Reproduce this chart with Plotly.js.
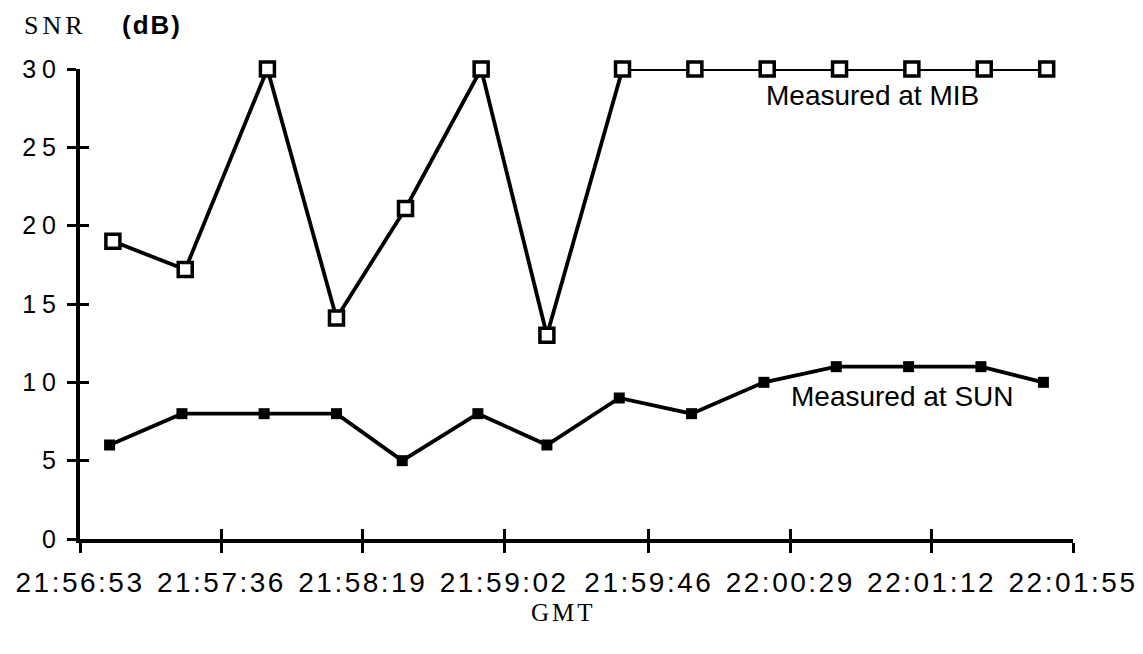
<!DOCTYPE html>
<html>
<head>
<meta charset="utf-8">
<script src="https://cdn.plot.ly/plotly-3.0.1.min.js"></script>
<style>
  html, body { margin: 0; padding: 0; background: #fff; }
  #chart { width: 1143px; height: 654px; }
  .xtick text { letter-spacing: 2.5px; }
  .ytick text { letter-spacing: 6px; }
</style>
</head>
<body>
<div id="chart"></div>
<script>
// ---- data (times in GMT, SNR in dB) ----
const DAY = '2000-01-01 ';
const mibTimes = ['21:57:03','21:57:25','21:57:50','21:58:11','21:58:32','21:58:55','21:59:15',
                  '21:59:38','22:00:00','22:00:22','22:00:44','22:01:06','22:01:28','22:01:47'];
const mibSNR   = [19, 17.2, 30, 14.1, 21.1, 30, 13, 30, 30, 30, 30, 30, 30, 30];

const sunTimes = ['21:57:02','21:57:24','21:57:49','21:58:11','21:58:31','21:58:54','21:59:15',
                  '21:59:37','21:59:59','22:00:21','22:00:43','22:01:05','22:01:27','22:01:46'];
const sunSNR   = [6, 8, 8, 8, 5, 8, 6, 9, 8, 10, 11, 11, 11, 10];

const xTickLabels = ['21:56:53','21:57:36','21:58:19','21:59:02','21:59:46','22:00:29','22:01:12','22:01:55'];
const yTickValues = [0, 5, 10, 15, 20, 25, 30];
const yTickLabels = ['0','5','10','15','20','25','30'];

const xTickVals = xTickLabels.map(t => DAY + t);
const xRange = [DAY + xTickLabels[0], DAY + xTickLabels[xTickLabels.length - 1]];

const traces = [
  {
    x: mibTimes.map(t => DAY + t), y: mibSNR, name: 'Measured at MIB',
    type: 'scatter', mode: 'lines+markers', cliponaxis: false,
    line: { color: '#000', width: 3.8 },
    marker: { symbol: 'square', size: 14, color: '#fff', line: { color: '#000', width: 3.5 } }
  },
  {
    x: sunTimes.map(t => DAY + t), y: sunSNR, name: 'Measured at SUN',
    type: 'scatter', mode: 'lines+markers', cliponaxis: false,
    line: { color: '#000', width: 3.8 },
    marker: { symbol: 'square', size: 11, color: '#000' }
  },
  { x: [], y: [], xaxis: 'x2', yaxis: 'y2', showlegend: false, hoverinfo: 'skip', type: 'scatter' }
];

const tickFontX = { family: 'Liberation Sans, Arial, sans-serif', size: 28, color: '#000' };
const tickFontY = { family: 'Liberation Sans, Arial, sans-serif', size: 25, color: '#000' };

const layout = {
  width: 1143, height: 654,
  margin: { l: 80, r: 70, t: 69, b: 115 },
  paper_bgcolor: '#fff', plot_bgcolor: '#fff',
  showlegend: false,
  xaxis: {
    type: 'date', range: xRange, tickmode: 'array', tickvals: xTickVals, ticktext: xTickLabels,
    ticks: 'outside', ticklen: 10, tickwidth: 3, tickcolor: '#000',
    showline: true, linewidth: 4, linecolor: '#000',
    showgrid: false, zeroline: false, tickfont: tickFontX, ticklabelstandoff: 5
  },
  yaxis: {
    range: [0, 30], tickmode: 'array', tickvals: yTickValues, ticktext: yTickLabels,
    ticks: 'outside', ticklen: 9, tickwidth: 3, tickcolor: '#000',
    showline: true, linewidth: 4, linecolor: '#000',
    showgrid: false, zeroline: false, tickfont: tickFontY, ticklabelstandoff: 0
  },
  xaxis2: {
    type: 'date', overlaying: 'x', anchor: 'y', side: 'bottom', range: xRange,
    tickmode: 'array', tickvals: xTickVals, ticks: 'inside', ticklen: 10, tickwidth: 3, tickcolor: '#000',
    showticklabels: false, showline: false, showgrid: false, zeroline: false
  },
  yaxis2: {
    overlaying: 'y', anchor: 'x', side: 'left', range: [0, 30],
    tickmode: 'array', tickvals: yTickValues, ticks: 'inside', ticklen: 9, tickwidth: 3, tickcolor: '#000',
    showticklabels: false, showline: false, showgrid: false, zeroline: false
  },
  annotations: [
    { text: "<span style='letter-spacing:4px'>SNR</span>", xref: 'paper', yref: 'paper',
      x: -0.025, y: 1.0936, xanchor: 'center', yanchor: 'middle', showarrow: false,
      font: { family: 'Liberation Serif, Times New Roman, serif', size: 26, color: '#000' } },
    { text: "<b><span style='letter-spacing:2px'>(dB)</span></b>", xref: 'paper', yref: 'paper',
      x: 0.073, y: 1.0936, xanchor: 'center', yanchor: 'middle', showarrow: false,
      font: { family: 'Liberation Sans, Arial, sans-serif', size: 26, color: '#000' } },
    { text: "<span style='letter-spacing:3px'>GMT</span>", xref: 'paper', yref: 'paper',
      x: 0.487, y: -0.1574, xanchor: 'center', yanchor: 'middle', showarrow: false,
      font: { family: 'Liberation Serif, Times New Roman, serif', size: 25, color: '#000' } },
    { text: 'Measured at MIB', x: DAY + '22:00:54', y: 28.3, xanchor: 'center', yanchor: 'middle',
      showarrow: false, font: { family: 'Liberation Sans, Arial, sans-serif', size: 28, color: '#000' } },
    { text: 'Measured at SUN', x: DAY + '22:01:03', y: 9.1, xanchor: 'center', yanchor: 'middle',
      showarrow: false, font: { family: 'Liberation Sans, Arial, sans-serif', size: 28, color: '#000' } }
  ]
};

Plotly.newPlot('chart', traces, layout, { displayModeBar: false, staticPlot: true });
</script>
</body>
</html>
